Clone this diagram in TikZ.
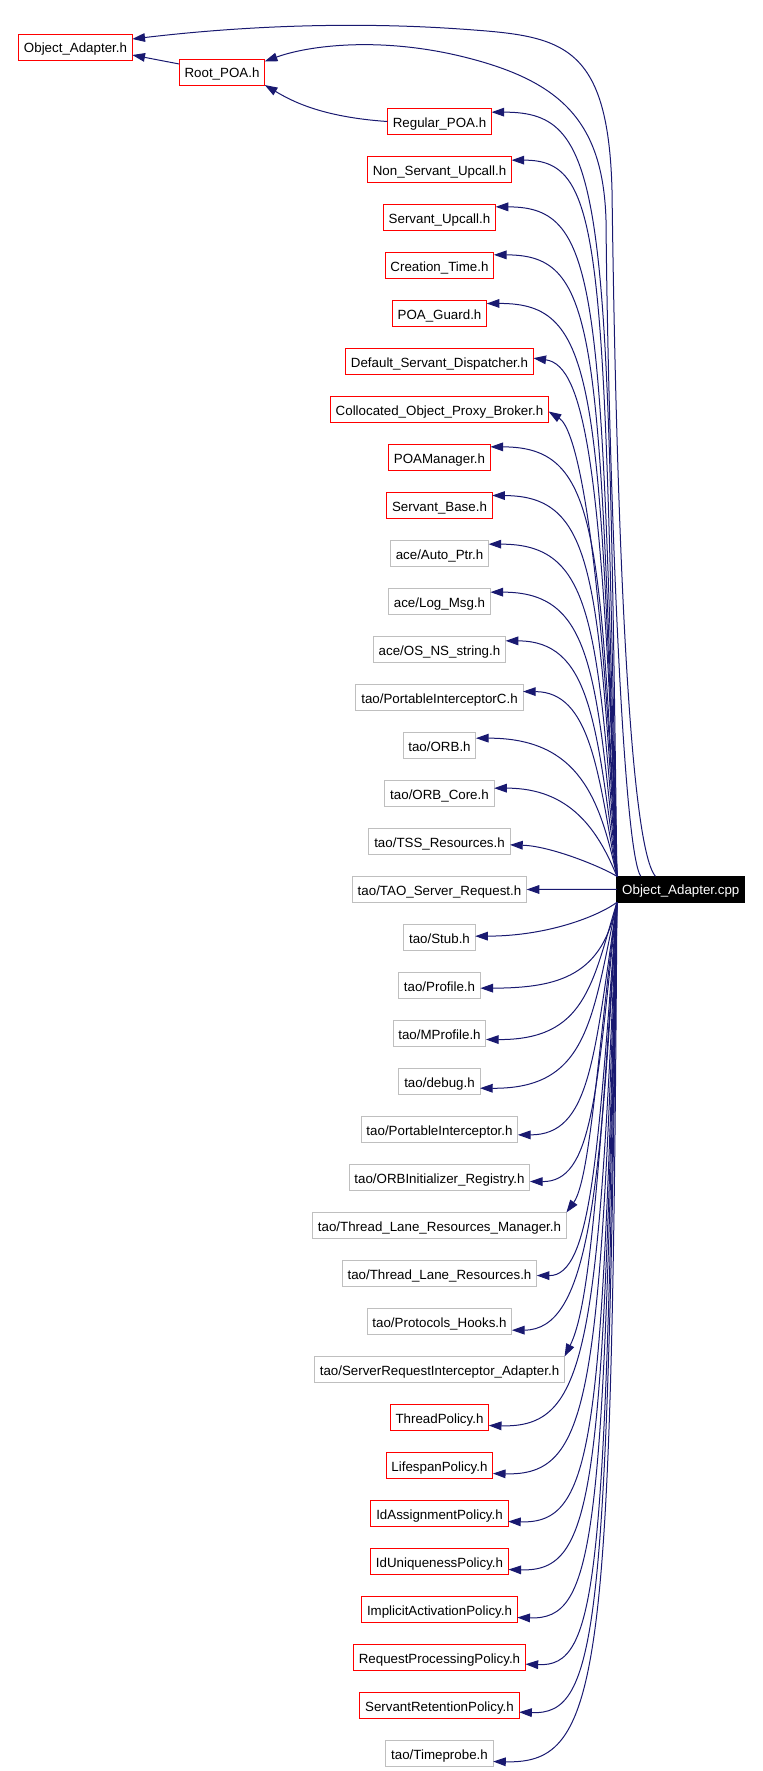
\documentclass[tikz,border=0pt]{standalone}
\usepackage{fontspec}
\setmainfont{Liberation Sans}
\usepackage{tikz}
\usetikzlibrary{arrows.meta,positioning}
\definecolor{edgeblue}{RGB}{25,25,112}
\definecolor{boxred}{RGB}{255,0,0}
\definecolor{boxgray}{RGB}{191,191,191}
\tikzset{
    file-box/.style = {rectangle, line width=0.75pt, fill=white, inner xsep=4pt, inner ysep=0pt, outer sep=0pt, minimum height=19.5pt, text height=8.5pt, text depth=0pt, font=\fontsize{10pt}{12pt}\selectfont},
    red-box/.style = {file-box, draw=boxred},
    gray-box/.style = {file-box, draw=boxgray},
    source-box/.style = {file-box, draw=black, fill=black, text=white},
    include-edge/.style = {draw=edgeblue, line width=0.75pt, -{Triangle[length=9.5pt,width=6.5pt]}},
}

\begin{document}
\begin{tikzpicture}[x=0.75pt, y=-0.75pt, node distance=16.5pt]
\useasboundingbox (0,0) rectangle (763,1771);

\node[red-box] (objadapter) at (75.5,47) {Object\_Adapter.h};
\node[red-box] (rootpoa) at (222,72) {Root\_POA.h};
\node[red-box] (regularpoa) at (439.5,121.5) {Regular\_POA.h};
\node[red-box, below=of regularpoa] (nonservant) {Non\_Servant\_Upcall.h};
\node[red-box, below=of nonservant] (servantupcall) {Servant\_Upcall.h};
\node[red-box, below=of servantupcall] (creationtime) {Creation\_Time.h};
\node[red-box, below=of creationtime] (poaguard) {POA\_Guard.h};
\node[red-box, below=of poaguard] (defaultdisp) {Default\_Servant\_Dispatcher.h};
\node[red-box, below=of defaultdisp] (collocated) {Collocated\_Object\_Proxy\_Broker.h};
\node[red-box, below=of collocated] (poamanager) {POAManager.h};
\node[red-box, below=of poamanager] (servantbase) {Servant\_Base.h};
\node[gray-box, below=of servantbase] (autoptr) {ace/Auto\_Ptr.h};
\node[gray-box, below=of autoptr] (logmsg) {ace/Log\_Msg.h};
\node[gray-box, below=of logmsg] (osnsstring) {ace/OS\_NS\_string.h};
\node[gray-box, below=of osnsstring] (pic) {tao/PortableInterceptorC.h};
\node[gray-box, below=of pic] (orb) {tao/ORB.h};
\node[gray-box, below=of orb] (orbcore) {tao/ORB\_Core.h};
\node[gray-box, below=of orbcore] (tssres) {tao/TSS\_Resources.h};
\node[gray-box, below=of tssres] (serverreq) {tao/TAO\_Server\_Request.h};
\node[gray-box, below=of serverreq] (stub) {tao/Stub.h};
\node[gray-box, below=of stub] (profile) {tao/Profile.h};
\node[gray-box, below=of profile] (mprofile) {tao/MProfile.h};
\node[gray-box, below=of mprofile] (debug) {tao/debug.h};
\node[gray-box, below=of debug] (pi) {tao/PortableInterceptor.h};
\node[gray-box, below=of pi] (orbinit) {tao/ORBInitializer\_Registry.h};
\node[gray-box, below=of orbinit] (tlrm) {tao/Thread\_Lane\_Resources\_Manager.h};
\node[gray-box, below=of tlrm] (tlr) {tao/Thread\_Lane\_Resources.h};
\node[gray-box, below=of tlr] (protohooks) {tao/Protocols\_Hooks.h};
\node[gray-box, below=of protohooks] (sria) {tao/ServerRequestInterceptor\_Adapter.h};
\node[red-box, below=of sria] (threadpol) {ThreadPolicy.h};
\node[red-box, below=of threadpol] (lifespanpol) {LifespanPolicy.h};
\node[red-box, below=of lifespanpol] (idassignpol) {IdAssignmentPolicy.h};
\node[red-box, below=of idassignpol] (iduniqpol) {IdUniquenessPolicy.h};
\node[red-box, below=of iduniqpol] (implicitpol) {ImplicitActivationPolicy.h};
\node[red-box, below=of implicitpol] (reqprocpol) {RequestProcessingPolicy.h};
\node[red-box, below=of reqprocpol] (servretpol) {ServantRetentionPolicy.h};
\node[gray-box, below=of servretpol] (timeprobe) {tao/Timeprobe.h};
\node[source-box] (cpp) at (680.8,889.3) {Object\_Adapter.cpp};

\draw[include-edge] ([yshift=6pt]rootpoa.west) -- ([yshift=-6pt]objadapter.east);
\draw[include-edge] (regularpoa.west) .. controls (320,117) and (290,100) .. (rootpoa.south east);
\draw[include-edge] ([xshift=-19pt]cpp.north) .. controls (628,845) and (616,500) .. (612,190) .. controls (608,40) and (560,36) .. (460,29) .. controls (360,22) and (250,25) .. ([yshift=6pt]objadapter.east);
\draw[include-edge] ([xshift=-30pt]cpp.north) .. controls (622,850) and (608,450) .. (606,220) .. controls (603,120) and (560,80) .. (460,56) .. controls (380,37) and (310,45) .. ([yshift=8pt]rootpoa.east);

\draw[include-edge] (cpp.north west) .. controls (608,190) and (606,112) .. ([yshift=7pt]regularpoa.east);
\draw[include-edge] (cpp.north west) .. controls (604,240) and (603,160) .. ([yshift=7pt]nonservant.east);
\draw[include-edge] (cpp.north west) .. controls (601,285) and (600,207) .. ([yshift=8pt]servantupcall.east);
\draw[include-edge] (cpp.north west) .. controls (599,330) and (598,255) .. ([yshift=8pt]creationtime.east);
\draw[include-edge] (cpp.north west) .. controls (599,380) and (596,303) .. ([yshift=7.5pt]poaguard.east);
\draw[include-edge] (cpp.north west) .. controls (603,470) and (585,365) .. ([yshift=2.5pt]defaultdisp.east);
\draw[include-edge] (cpp.north west) .. controls (600,520) and (575,428) .. ([yshift=-1.5pt]collocated.east);
\draw[include-edge] (cpp.north west) .. controls (600,525) and (596,447) .. ([yshift=8pt]poamanager.east);
\draw[include-edge] (cpp.north west) .. controls (598,575) and (594,496) .. ([yshift=7.5pt]servantbase.east);
\draw[include-edge] (cpp.north west) .. controls (597,620) and (592,544) .. ([yshift=7pt]autoptr.east);
\draw[include-edge] (cpp.north west) .. controls (596,670) and (592,592) .. ([yshift=7pt]logmsg.east);
\draw[include-edge] (cpp.north west) .. controls (596,720) and (590,641) .. ([yshift=6.5pt]osnsstring.east);
\draw[include-edge] (cpp.north west) .. controls (598,770) and (590,692) .. ([yshift=4.5pt]pic.east);
\draw[include-edge] (cpp.north west) .. controls (600,800) and (580,738) .. ([yshift=5.5pt]orb.east);
\draw[include-edge] (cpp.north west) .. controls (598,830) and (570,788) .. ([yshift=4pt]orbcore.east);
\draw[include-edge] (cpp.north west) .. controls (600,866) and (550,846) .. ([yshift=-2.5pt]tssres.east);
\draw[include-edge] (cpp.west) -- (serverreq.east);

\draw[include-edge] (cpp.south west) .. controls (600,915) and (550,936) .. ([yshift=1pt]stub.east);
\draw[include-edge] (cpp.south west) .. controls (603,975) and (560,988) .. ([yshift=-2pt]profile.east);
\draw[include-edge] (cpp.south west) .. controls (592,985) and (585,1040) .. ([yshift=-4.5pt]mprofile.east);
\draw[include-edge] (cpp.south west) .. controls (592,1020) and (588,1089) .. ([yshift=-5pt]debug.east);
\draw[include-edge] (cpp.south west) .. controls (594,1060) and (590,1135) .. ([yshift=-4pt]pi.east);
\draw[include-edge] (cpp.south west) .. controls (596,1100) and (592,1182) .. ([yshift=-3pt]orbinit.east);
\draw[include-edge] (cpp.south west) .. controls (598,1050) and (590,1180) .. (tlrm.north east);
\draw[include-edge] (cpp.south west) .. controls (598,1150) and (592,1276) .. ([yshift=-1.5pt]tlr.east);
\draw[include-edge] (cpp.south west) .. controls (600,1200) and (588,1330) .. ([yshift=-6.5pt]protohooks.east);
\draw[include-edge] (cpp.south west) .. controls (598,1200) and (588,1310) .. (sria.north east);
\draw[include-edge] (cpp.south west) .. controls (598,1355) and (586,1428) .. ([yshift=-6pt]threadpol.east);
\draw[include-edge] (cpp.south west) .. controls (600,1400) and (590,1476) .. ([yshift=-6pt]lifespanpol.east);
\draw[include-edge] (cpp.south west) .. controls (602,1445) and (594,1524) .. ([yshift=-6pt]idassignpol.east);
\draw[include-edge] (cpp.south west) .. controls (603,1495) and (595,1572) .. ([yshift=-6pt]iduniqpol.east);
\draw[include-edge] (cpp.south west) .. controls (604,1545) and (596,1620) .. ([yshift=-6pt]implicitpol.east);
\draw[include-edge] (cpp.south west) .. controls (606,1590) and (598,1667) .. ([yshift=-5pt]reqprocpol.east);
\draw[include-edge] (cpp.south west) .. controls (608,1635) and (598,1715) .. ([yshift=-5pt]servretpol.east);
\draw[include-edge] (cpp.south west) .. controls (612,1680) and (602,1764) .. ([yshift=-6pt]timeprobe.east);
\end{tikzpicture}
\end{document}
